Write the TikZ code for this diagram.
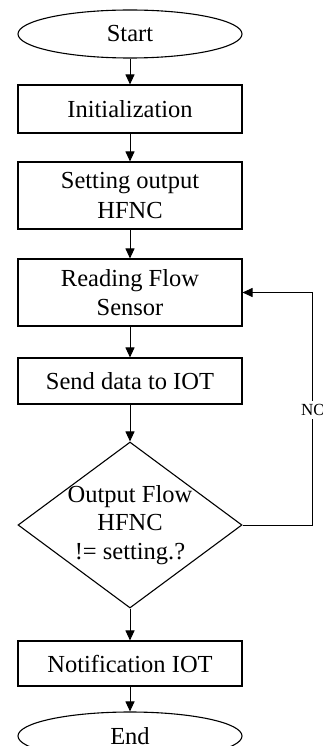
\documentclass[tikz,border=0pt]{standalone}
\usepackage{fontspec}
\setmainfont{Liberation Serif}
\usetikzlibrary{shapes.geometric,arrows.meta}

\tikzset{
  base/.style={draw=black, line width=1.1pt, inner sep=0pt, align=center,
    font=\fontsize{24.5}{29.5}\selectfont},
  terminal/.style={base, ellipse, minimum width=224pt, minimum height=48pt},
  process/.style={base, rectangle, minimum width=224pt},
  decision/.style={base, diamond, minimum width=224pt, minimum height=166pt},
  flow/.style={draw=black, line width=1pt, -{Triangle[length=10pt,width=9pt]}},
  looplabel/.style={fill=white, inner xsep=1pt, inner ysep=3pt,
    font=\fontsize{17}{20}\selectfont}
}

\begin{document}
\begin{tikzpicture}[x=1pt, y=-1pt]
  \useasboundingbox (0,0) rectangle (323,746);
  \clip (0,0) rectangle (323,746);

  % main column of steps
  \node[terminal] (start) at (130,34) {Start};
  \node[process, minimum height=48pt] (init) at (130,109) {Initialization};
  \node[process, minimum height=67pt] (set) at (130,195.5) {Setting output\\HFNC};
  \node[process, minimum height=67pt] (read) at (130,292.5) {Reading Flow\\Sensor};
  \node[process, minimum height=46pt] (send) at (130,381) {Send data to IOT};
  \node[decision] (dec) at (130,525) {};
  \node[align=center, font=\fontsize{24.5}{28.5}\selectfont] (dectext) at (dec.center)
    {Output Flow\\HFNC\\!= setting.?};
  \node[process, minimum height=45pt] (notify) at (130,663.5) {Notification IOT};
  \node[terminal] (end) at (130,736) {End};

  % straight connectors
  \draw[flow] (start) -- (init);
  \draw[flow] (init) -- (set);
  \draw[flow] (set) -- (read);
  \draw[flow] (read) -- (send);
  \draw[flow] (send) -- (dec.north);
  \draw[flow] (dec.south) -- (notify);
  \draw[flow] (notify) -- (end);

  % feedback loop on the right
  \coordinate (lr) at (312,525);
  \coordinate (ur) at (312,292.5);
  \draw[flow] (dec.east) -- (lr) -- (ur) -- (read.east);
  \node[looplabel, anchor=west] (no) at (300,410) {NO};
\end{tikzpicture}
\end{document}
